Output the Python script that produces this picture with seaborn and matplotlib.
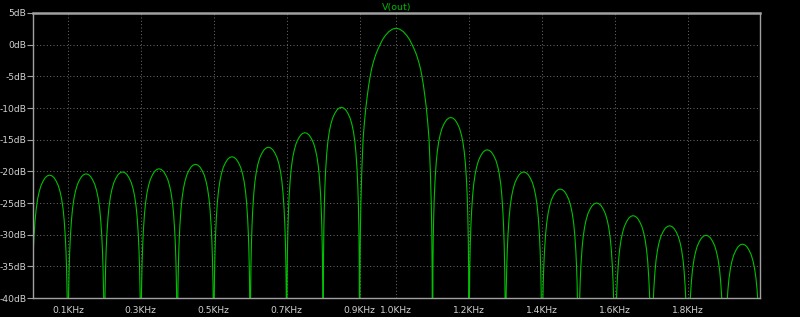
import matplotlib
matplotlib.use("Agg")
import matplotlib.pyplot as plt
import seaborn as sns
import pandas as pd

# ---- data (frequency in kHz, level in dB) ----
null_db = -60  # the response dips below the -40 dB floor at every null

# positions (kHz) inside each 0.1 kHz wide side lobe where the level was read
lobe_offsets_khz = [0.001, 0.002, 0.0035, 0.005, 0.007, 0.010, 0.013, 0.017, 0.021,
                    0.026, 0.032, 0.038, 0.044, 0.050, 0.056, 0.062, 0.068, 0.074,
                    0.079, 0.083, 0.087, 0.090, 0.093, 0.095, 0.0965, 0.098, 0.099]

# side lobes: start frequency (kHz) and levels (dB) at the offsets above
side_lobe_start_khz = [0.0, 0.1, 0.2, 0.3, 0.4, 0.5, 0.6, 0.7, 0.8,
                       1.1, 1.2, 1.3, 1.4, 1.5, 1.6, 1.7, 1.8, 1.9]
side_lobe_db = [
    [-44.6, -39.6, -35.6, -32.9, -30.4, -27.8, -26.0, -24.4, -23.3, -22.3, -21.55, -21.0, -20.7, -20.6,
     -20.7, -21.0, -21.55, -22.3, -23.3, -24.4, -26.0, -27.8, -30.4, -32.9, -35.6, -39.6, -44.6],
    [-44.4, -39.4, -35.4, -32.7, -30.2, -27.6, -25.8, -24.2, -23.1, -22.1, -21.35, -20.8, -20.5, -20.4,
     -20.5, -20.8, -21.35, -22.1, -23.1, -24.2, -25.8, -27.6, -30.2, -32.7, -35.4, -39.4, -44.4],
    [-44.1, -39.1, -35.1, -32.4, -29.9, -27.3, -25.5, -23.9, -22.8, -21.8, -21.05, -20.5, -20.2, -20.1,
     -20.2, -20.5, -21.05, -21.8, -22.8, -23.9, -25.5, -27.3, -29.9, -32.4, -35.1, -39.1, -44.1],
    [-43.6, -38.6, -34.6, -31.9, -29.4, -26.8, -25.0, -23.4, -22.3, -21.3, -20.55, -20.0, -19.7, -19.6,
     -19.7, -20.0, -20.55, -21.3, -22.3, -23.4, -25.0, -26.8, -29.4, -31.9, -34.6, -38.6, -43.6],
    [-42.9, -37.9, -33.9, -31.2, -28.7, -26.1, -24.3, -22.7, -21.6, -20.6, -19.85, -19.3, -19.0, -18.9,
     -19.0, -19.3, -19.85, -20.6, -21.6, -22.7, -24.3, -26.1, -28.7, -31.2, -33.9, -37.9, -42.9],
    [-41.7, -36.7, -32.7, -30.0, -27.5, -24.9, -23.1, -21.5, -20.4, -19.4, -18.65, -18.1, -17.8, -17.7,
     -17.8, -18.1, -18.65, -19.4, -20.4, -21.5, -23.1, -24.9, -27.5, -30.0, -32.7, -36.7, -41.7],
    [-40.2, -35.2, -31.2, -28.5, -26.0, -23.4, -21.6, -20.0, -18.9, -17.9, -17.15, -16.6, -16.3, -16.2,
     -16.3, -16.6, -17.15, -17.9, -18.9, -20.0, -21.6, -23.4, -26.0, -28.5, -31.2, -35.2, -40.2],
    [-37.9, -32.9, -28.9, -26.2, -23.7, -21.1, -19.3, -17.7, -16.6, -15.6, -14.85, -14.3, -14.0, -13.9,
     -14.0, -14.3, -14.85, -15.6, -16.6, -17.7, -19.3, -21.1, -23.7, -26.2, -28.9, -32.9, -37.9],
    [-33.9, -28.9, -24.9, -22.2, -19.7, -17.1, -15.3, -13.7, -12.6, -11.6, -10.85, -10.3, -10.0, -9.9,
     -10.0, -10.3, -10.85, -11.6, -12.6, -13.7, -15.3, -17.1, -19.7, -22.2, -24.9, -28.9, -33.9],
    [-35.5, -30.5, -26.5, -23.8, -21.3, -18.7, -16.9, -15.3, -14.2, -13.2, -12.45, -11.9, -11.6, -11.5,
     -11.6, -11.9, -12.45, -13.2, -14.2, -15.3, -16.9, -18.7, -21.3, -23.8, -26.5, -30.5, -35.5],
    [-40.6, -35.6, -31.6, -28.9, -26.4, -23.8, -22.0, -20.4, -19.3, -18.3, -17.55, -17.0, -16.7, -16.6,
     -16.7, -17.0, -17.55, -18.3, -19.3, -20.4, -22.0, -23.8, -26.4, -28.9, -31.6, -35.6, -40.6],
    [-44.1, -39.1, -35.1, -32.4, -29.9, -27.3, -25.5, -23.9, -22.8, -21.8, -21.05, -20.5, -20.2, -20.1,
     -20.2, -20.5, -21.05, -21.8, -22.8, -23.9, -25.5, -27.3, -29.9, -32.4, -35.1, -39.1, -44.1],
    [-46.8, -41.8, -37.8, -35.1, -32.6, -30.0, -28.2, -26.6, -25.5, -24.5, -23.75, -23.2, -22.9, -22.8,
     -22.9, -23.2, -23.75, -24.5, -25.5, -26.6, -28.2, -30.0, -32.6, -35.1, -37.8, -41.8, -46.8],
    [-49.0, -44.0, -40.0, -37.3, -34.8, -32.2, -30.4, -28.8, -27.7, -26.7, -25.95, -25.4, -25.1, -25.0,
     -25.1, -25.4, -25.95, -26.7, -27.7, -28.8, -30.4, -32.2, -34.8, -37.3, -40.0, -44.0, -49.0],
    [-51.0, -46.0, -42.0, -39.3, -36.8, -34.2, -32.4, -30.8, -29.7, -28.7, -27.95, -27.4, -27.1, -27.0,
     -27.1, -27.4, -27.95, -28.7, -29.7, -30.8, -32.4, -34.2, -36.8, -39.3, -42.0, -46.0, -51.0],
    [-52.6, -47.6, -43.6, -40.9, -38.4, -35.8, -34.0, -32.4, -31.3, -30.3, -29.55, -29.0, -28.7, -28.6,
     -28.7, -29.0, -29.55, -30.3, -31.3, -32.4, -34.0, -35.8, -38.4, -40.9, -43.6, -47.6, -52.6],
    [-54.1, -49.1, -45.1, -42.4, -39.9, -37.3, -35.5, -33.9, -32.8, -31.8, -31.05, -30.5, -30.2, -30.1,
     -30.2, -30.5, -31.05, -31.8, -32.8, -33.9, -35.5, -37.3, -39.9, -42.4, -45.1, -49.1, -54.1],
    [-55.5, -50.5, -46.5, -43.8, -41.3, -38.7, -36.9, -35.3, -34.2, -33.2, -32.45, -31.9, -31.6, -31.5,
     -31.6, -31.9, -32.45, -33.2, -34.2, -35.3, -36.9, -38.7, -41.3, -43.8, -46.5, -50.5, -55.5],
]

# main lobe (0.9 .. 1.1 kHz)
main_lobe_khz = [0.901, 0.902, 0.9035, 0.906, 0.9095, 0.913, 0.917, 0.921, 0.925,
                 0.929, 0.933, 0.938, 0.944, 0.950, 0.956, 0.963, 0.970, 0.980,
                 0.990, 1.000, 1.010, 1.020, 1.030, 1.037, 1.044, 1.050, 1.056,
                 1.062, 1.067, 1.071, 1.075, 1.079, 1.083, 1.087, 1.0905, 1.094,
                 1.0965, 1.098, 1.099]
main_lobe_db = [-36.0, -30.0, -25.0, -20.0, -15.0, -12.4, -10.0, -8.1, -6.4,
                -5.0, -3.8, -2.7, -1.6, -0.75, 0.0, 0.8, 1.4, 2.05,
                2.45, 2.6, 2.45, 2.05, 1.4, 0.8, 0.0, -0.75, -1.6,
                -2.7, -3.8, -5.0, -6.4, -8.1, -10.0, -12.4, -15.0, -20.0,
                -25.0, -30.0, -36.0]

x_ticks = [0.1, 0.3, 0.5, 0.7, 0.9, 1.0, 1.2, 1.4, 1.6, 1.8]
x_tick_labels = ["0.1KHz", "0.3KHz", "0.5KHz", "0.7KHz", "0.9KHz",
                 "1.0KHz", "1.2KHz", "1.4KHz", "1.6KHz", "1.8KHz"]
y_ticks = [5, 0, -5, -10, -15, -20, -25, -30, -35, -40]
y_tick_labels = ["5dB", "0dB", "-5dB", "-10dB", "-15dB", "-20dB",
                 "-25dB", "-30dB", "-35dB", "-40dB"]
trace_name = "V(out)"

# ---- assemble the trace table ----
segments = []
for start, levels in zip(side_lobe_start_khz, side_lobe_db):
    segments.append((start, list(zip([round(start + o, 5) for o in lobe_offsets_khz], levels))))
segments.append((0.9, list(zip(main_lobe_khz, main_lobe_db))))
segments.sort(key=lambda s: s[0])

rows = []
for start, pts in segments:
    rows.append((start, null_db))
    rows.extend(pts)
rows.append((2.0, null_db))
df = pd.DataFrame(rows, columns=["freq", "db"]).sort_values("freq", kind="stable")

sns.set_style("dark")
plt.rcParams["font.family"] = ["DejaVu Sans"]

W, H = 800, 317
fig = plt.figure(figsize=(W / 100, H / 100), dpi=100, facecolor="black")
left, right, top, bottom = 32.5, 760, 13, 298
ax = fig.add_axes([left / W, 1 - bottom / H, (right - left) / W, (bottom - top) / H])
ax.set_facecolor("black")

sns.lineplot(data=df, x="freq", y="db", ax=ax, color="#00c000", linewidth=0.8,
             estimator=None, sort=False)

ax.set_xlim(0.003, 1.998)
ax.set_ylim(-40, 5)
ax.set_xlabel("")
ax.set_ylabel("")

ax.set_xticks(x_ticks)
ax.set_xticklabels(x_tick_labels)
ax.set_yticks(y_ticks)
ax.set_yticklabels(y_tick_labels)

ax.grid(True, color="#666666", linewidth=0.75, linestyle=(0, (1, 2.2)))
ax.set_axisbelow(True)

for s in ["left", "right", "bottom", "top"]:
    ax.spines[s].set_visible(True)
    ax.spines[s].set_color("#a0a0a0")
    ax.spines[s].set_linewidth(1.0)
ax.spines["top"].set_linewidth(1.8)

ax.tick_params(axis="y", colors="#a0a0a0", labelcolor="#d0d0d0", labelsize=6.6,
               length=4, width=0.8, pad=0.5, direction="out", left=True)
ax.tick_params(axis="x", colors="#a0a0a0", labelcolor="#d0d0d0", labelsize=6.6,
               length=0, pad=6, bottom=True)

ax.set_title(trace_name, color="#00b800", fontsize=6.8, pad=2.5)

fig.savefig("out.png", dpi=100, facecolor="black")
